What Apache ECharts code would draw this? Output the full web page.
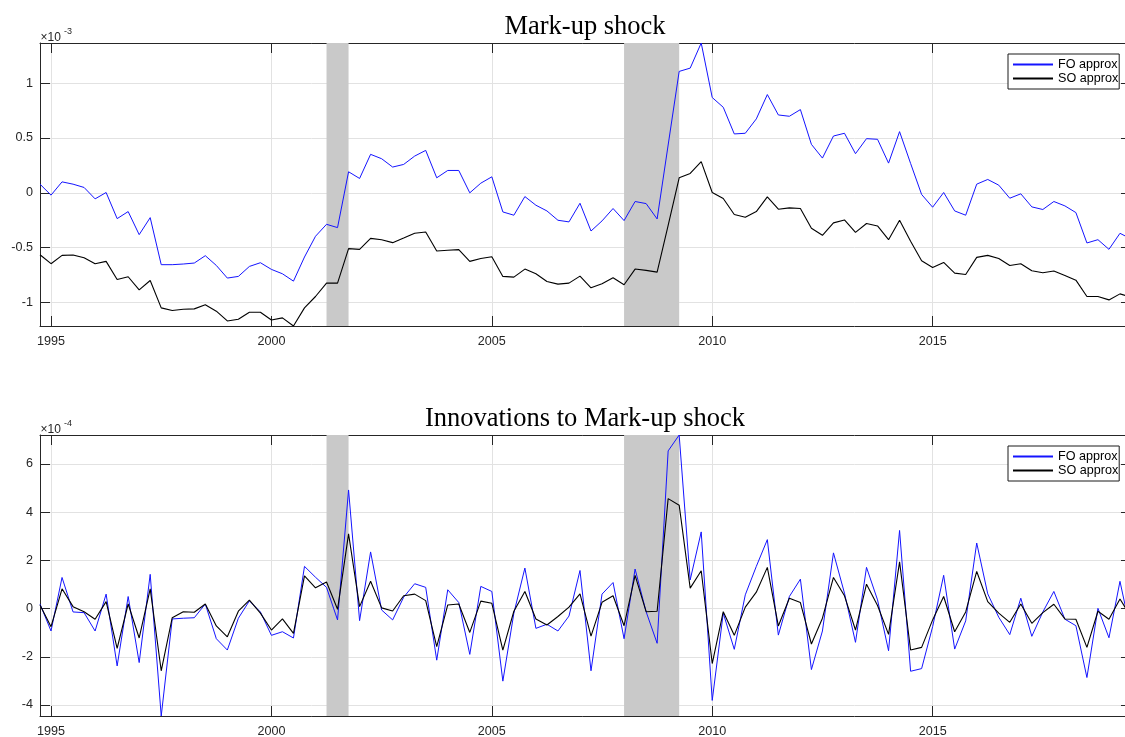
<!DOCTYPE html>
<html>
<head>
<meta charset="utf-8">
<script src="https://cdn.jsdelivr.net/npm/echarts@6/dist/echarts.min.js"></script>
<style>
  html, body { margin: 0; padding: 0; background: #ffffff; }
  #chart { width: 1125px; height: 737px; }
</style>
</head>
<body>
<div id="chart"></div>
<script>
// Quarterly sample, 1994Q4 .. 2019Q3 (decimal years)
const firstQuarter = 1994.75;
const lastQuarter = 2019.5;
const quarters = [];
for (let t = firstQuarter; t <= lastQuarter + 1e-9; t += 0.25) quarters.push(+t.toFixed(2));

const yearTicks = [1995, 2000, 2005, 2010, 2015];

// NBER recession bands (decimal years)
const recessions = [[2001.25, 2001.75], [2008.0, 2009.25]];

// Mark-up shock, in units of 1e-3
const markupFO = [
  0.079, -0.021, 0.100, 0.079, 0.049, -0.055, 0.003, -0.235, -0.171, -0.381,
  -0.226, -0.655, -0.655, -0.649, -0.640, -0.573, -0.662, -0.777, -0.762, -0.671,
  -0.637, -0.698, -0.738, -0.805, -0.585, -0.396, -0.287, -0.317, 0.192, 0.131,
  0.351, 0.311, 0.235, 0.259, 0.335, 0.387, 0.137, 0.204, 0.204, 0.000,
  0.088, 0.146, -0.174, -0.204, -0.034, -0.113, -0.165, -0.250, -0.265, -0.095,
  -0.348, -0.256, -0.143, -0.253, -0.079, -0.098, -0.238, 0.436, 1.107, 1.137,
  1.366, 0.869, 0.780, 0.537, 0.543, 0.674, 0.896, 0.710, 0.698, 0.759,
  0.442, 0.317, 0.518, 0.543, 0.357, 0.494, 0.488, 0.271, 0.558, 0.268,
  -0.015, -0.131, 0.003, -0.165, -0.204, 0.079, 0.122, 0.070, -0.049, -0.009,
  -0.128, -0.152, -0.079, -0.119, -0.180, -0.457, -0.427, -0.515, -0.369, -0.420
];
const markupSO = [
  -0.564, -0.646, -0.570, -0.567, -0.591, -0.646, -0.625, -0.790, -0.765, -0.884,
  -0.799, -1.049, -1.073, -1.061, -1.058, -1.021, -1.079, -1.168, -1.152, -1.088,
  -1.088, -1.159, -1.140, -1.214, -1.049, -0.945, -0.823, -0.823, -0.509, -0.515,
  -0.415, -0.427, -0.454, -0.412, -0.369, -0.357, -0.530, -0.524, -0.518, -0.625,
  -0.598, -0.582, -0.762, -0.768, -0.695, -0.738, -0.808, -0.832, -0.823, -0.759,
  -0.866, -0.829, -0.774, -0.838, -0.695, -0.707, -0.723, -0.296, 0.137, 0.177,
  0.284, 0.003, -0.052, -0.198, -0.223, -0.171, -0.037, -0.149, -0.137, -0.143,
  -0.323, -0.387, -0.274, -0.247, -0.360, -0.280, -0.302, -0.427, -0.250, -0.442,
  -0.619, -0.680, -0.634, -0.732, -0.744, -0.588, -0.570, -0.598, -0.662, -0.646,
  -0.710, -0.729, -0.713, -0.753, -0.796, -0.945, -0.945, -0.976, -0.921, -0.950
];

// Innovations to the mark-up shock, in units of 1e-4
const innovFO = [
  0.19, -0.93, 1.29, -0.14, -0.17, -0.93, 0.60, -2.38, 0.50, -2.24,
  1.42, -4.456, -0.43, -0.40, -0.38, 0.19, -1.25, -1.72, -0.40, 0.32,
  -0.14, -1.11, -0.96, -1.22, 1.75, 1.30, 0.88, -0.47, 4.92, -0.50,
  2.35, -0.06, -0.47, 0.47, 1.03, 0.88, -2.14, 0.78, 0.25, -1.90,
  0.92, 0.71, -3.01, -0.19, 1.68, -0.82, -0.65, -0.93, -0.31, 1.58,
  -2.58, 0.60, 1.08, -1.25, 1.64, -0.13, -1.44, 6.54, 7.20, 1.19,
  3.18, -3.81, -0.19, -1.69, 0.57, 1.75, 2.86, -1.10, 0.50, 1.22,
  -2.53, -0.93, 2.31, 0.64, -1.40, 1.71, 0.36, -1.75, 3.24, -2.60,
  -2.49, -0.75, 1.38, -1.68, -0.51, 2.72, 0.61, -0.36, -1.08, 0.43,
  -1.15, -0.14, 0.71, -0.44, -0.71, -2.86, 0.01, -1.21, 1.13, -1.00
];
const innovSO = [
  0.15, -0.75, 0.82, 0.08, -0.13, -0.44, 0.29, -1.65, 0.19, -1.22,
  0.82, -2.58, -0.38, -0.13, -0.15, 0.19, -0.72, -1.17, -0.11, 0.35,
  -0.19, -0.89, -0.43, -1.03, 1.36, 0.86, 1.10, -0.03, 3.10, 0.08,
  1.13, 0.03, -0.10, 0.53, 0.60, 0.33, -1.58, 0.15, 0.19, -0.99,
  0.31, 0.22, -1.72, -0.11, 0.71, -0.43, -0.68, -0.33, 0.06, 0.61,
  -1.14, 0.26, 0.53, -0.71, 1.38, -0.13, -0.11, 4.56, 4.29, 0.85,
  1.57, -2.28, -0.13, -1.11, 0.06, 0.68, 1.71, -0.72, 0.43, 0.25,
  -1.47, -0.40, 1.29, 0.53, -0.89, 1.01, 0.13, -1.07, 1.94, -1.72,
  -1.61, -0.47, 0.50, -0.96, -0.14, 1.54, 0.29, -0.19, -0.57, 0.19,
  -0.61, -0.17, 0.18, -0.43, -0.44, -1.61, -0.11, -0.44, 0.40, -0.35
];

const markupTicks = [-1, -0.5, 0, 0.5, 1];
const innovTicks = [-4, -2, 0, 2, 4, 6];

const panelTitles = ['Mark-up shock', 'Innovations to Mark-up shock'];
const exponentLabels = ['-3', '-4'];
const seriesNames = ['FO approx', 'SO approx'];

const AXIS = '#262626';
const GRIDLINE = '#e2e2e2';
const SANS = '"Liberation Sans", Arial, sans-serif';
const SERIF = '"Liberation Serif", "DejaVu Serif", serif';

const pair = (vals) => vals.map((v, i) => [quarters[i], v]);
const dataMin = (arrs) => Math.min(...arrs.flat());
const dataMax = (arrs) => Math.max(...arrs.flat());

const panels = [
  { top: 43, height: 283, fo: markupFO, so: markupSO, ticks: markupTicks },
  { top: 435, height: 281, fo: innovFO, so: innovSO, ticks: innovTicks }
];

const grids = [], xAxes = [], yAxes = [], series = [], legends = [], graphics = [];

panels.forEach((p, k) => {
  const yMin = dataMin([p.fo, p.so]);
  const yMax = dataMax([p.fo, p.so]);
  // the plot box runs a few pixels past the right edge of the canvas
  grids.push({ left: 40, width: 1091, top: p.top, height: p.height,
               containLabel: false, outerBoundsMode: 'none' });

  // bottom (labelled) and top (frame) x axes
  [['bottom', true], ['top', false]].forEach(([pos, labelled]) => {
    xAxes.push({
      type: 'value', gridIndex: k, position: pos,
      min: firstQuarter, max: lastQuarter,
      axisLine: { show: true, onZero: false, lineStyle: { color: AXIS, width: 1 } },
      axisTick: { show: true, inside: true, length: 10, customValues: yearTicks, lineStyle: { color: AXIS, width: 1 } },
      axisLabel: { show: labelled, customValues: yearTicks, formatter: (v) => String(v),
                   color: AXIS, fontFamily: SANS, fontSize: 12.6, margin: 9 },
      splitLine: { show: labelled, lineStyle: { color: GRIDLINE, width: 1 } }
    });
  });
  // left (labelled) and right (frame) y axes
  [['left', true], ['right', false]].forEach(([pos, labelled]) => {
    yAxes.push({
      type: 'value', gridIndex: k, position: pos,
      min: yMin, max: yMax,
      axisLine: { show: true, onZero: false, lineStyle: { color: AXIS, width: 1 } },
      axisTick: { show: true, inside: true, length: 10, customValues: p.ticks, lineStyle: { color: AXIS, width: 1 } },
      axisLabel: { show: labelled, customValues: p.ticks, color: AXIS, fontFamily: SANS, fontSize: 12.6, margin: 7 },
      splitLine: { show: labelled, lineStyle: { color: GRIDLINE, width: 1 } }
    });
  });

  const xi = k * 2, yi = k * 2;
  // recession shading
  series.push({
    type: 'line', xAxisIndex: xi, yAxisIndex: yi, data: [], silent: true, z: 1,
    markArea: {
      silent: true,
      itemStyle: { color: '#c9c9c9', opacity: 1 },
      data: recessions.map(([a, b]) => [{ xAxis: a }, { xAxis: b }])
    }
  });
  series.push({
    name: seriesNames[0], type: 'line', xAxisIndex: xi, yAxisIndex: yi, z: 3,
    data: pair(p.fo), symbol: 'none', showSymbol: false,
    lineStyle: { color: '#1414ff', width: 1 }, itemStyle: { color: '#1414ff' }
  });
  series.push({
    name: seriesNames[1], type: 'line', xAxisIndex: xi, yAxisIndex: yi, z: 4,
    data: pair(p.so), symbol: 'none', showSymbol: false,
    lineStyle: { color: '#000000', width: 1.1 }, itemStyle: { color: '#000000' }
  });

  legends.push({
    data: seriesNames, orient: 'vertical', left: 1008, top: p.top + 11,
    padding: [4, 1, 4, 4], itemGap: 1, itemWidth: 40, itemHeight: 14,
    backgroundColor: '#ffffff', borderColor: '#1a1a1a', borderWidth: 1, borderRadius: 0,
    itemStyle: { opacity: 0 },
    textStyle: { color: '#000000', fontFamily: SANS, fontSize: 12.6 },
    selectedMode: false
  });

  graphics.push({
    type: 'text', x: 585, y: p.top - 29,
    style: { text: panelTitles[k], font: '26.5px ' + SERIF, fill: '#000000', align: 'center', verticalAlign: 'top' }
  });
  graphics.push({
    type: 'text', x: 40.5, y: p.top - 11.5,
    style: { text: '\u00d710', font: '12px ' + SANS, fill: AXIS, align: 'left', verticalAlign: 'top' }
  });
  graphics.push({
    type: 'text', x: 64, y: p.top - 16,
    style: { text: exponentLabels[k], font: '9px ' + SANS, fill: AXIS, align: 'left', verticalAlign: 'top' }
  });
});

const chart = echarts.init(document.getElementById('chart'), null, { renderer: 'canvas' });
chart.setOption({
  animation: false,
  backgroundColor: '#ffffff',
  grid: grids,
  xAxis: xAxes,
  yAxis: yAxes,
  legend: legends,
  series: series,
  graphic: graphics
});
</script>
</body>
</html>
